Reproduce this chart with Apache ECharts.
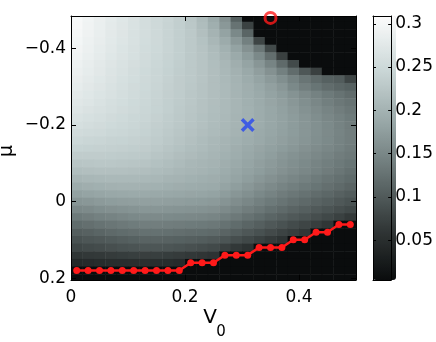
<!DOCTYPE html>
<html>
<head>
<meta charset="utf-8">
<script src="https://cdn.jsdelivr.net/npm/echarts@6/dist/echarts.min.js"></script>
<style>
html, body { margin: 0; padding: 0; background: #fff; }
#main { width: 436px; height: 342px; }
</style>
</head>
<body>
<div id="main"></div>
<script>
// cell centres
var v0Cells = [0.01, 0.03, 0.05, 0.07, 0.09, 0.11, 0.13, 0.15, 0.17, 0.19, 0.21, 0.23, 0.25,
  0.27, 0.29, 0.31, 0.33, 0.35, 0.37, 0.39, 0.41, 0.43, 0.45, 0.47, 0.49];
var muCells = [-0.48, -0.46, -0.44, -0.42, -0.40, -0.38, -0.36, -0.34, -0.32, -0.30, -0.28, -0.26,
  -0.24, -0.22, -0.20, -0.18, -0.16, -0.14, -0.12, -0.10, -0.08, -0.06, -0.04, -0.02, 0.00,
  0.02, 0.04, 0.06, 0.08, 0.10, 0.12, 0.14, 0.16, 0.18, 0.20];

// one row per mu value (top row first), one value per V0 column
var r00 = [.304,.296,.288,.280,.273,.266,.257,.250,.244,.237,.226,.210,.190,.160,.105,0,0,0,0,0,0,0,0,0,0];
var r01 = [.303,.295,.287,.279,.272,.265,.257,.250,.243,.236,.227,.213,.195,.168,.125,.072,0,0,0,0,0,0,0,0,0];
var r02 = [.301,.293,.286,.278,.271,.264,.257,.250,.243,.236,.228,.216,.200,.180,.150,.110,0,0,0,0,0,0,0,0,0];
var r03 = [.299,.291,.284,.277,.270,.263,.256,.250,.243,.236,.229,.219,.206,.190,.168,.140,.075,0,0,0,0,0,0,0,0];
var r04 = [.297,.289,.282,.275,.268,.262,.255,.249,.243,.236,.229,.221,.210,.197,.180,.160,.130,.080,0,0,0,0,0,0,0];
var r05 = [.294,.287,.280,.273,.267,.261,.254,.248,.242,.236,.229,.222,.213,.202,.189,.172,.150,.120,.070,0,0,0,0,0,0];
var r06 = [.291,.284,.278,.271,.265,.259,.253,.247,.241,.235,.229,.222,.214,.205,.194,.181,.165,.145,.115,.080,0,0,0,0,0];
var r07 = [.288,.282,.276,.269,.263,.257,.251,.246,.240,.234,.228,.222,.215,.207,.198,.187,.175,.160,.140,.118,.095,.070,0,0,0];
var r08 = [.285,.279,.273,.267,.261,.256,.250,.245,.239,.233,.228,.222,.215,.208,.200,.191,.181,.170,.157,.142,.128,.115,.105,.100,.075];
var r09 = [.282,.276,.271,.265,.260,.254,.249,.244,.238,.233,.227,.221,.215,.209,.202,.194,.186,.177,.166,.150,.138,.127,.118,.111,.105];
var r10 = [.278,.273,.268,.263,.258,.253,.248,.243,.237,.232,.226,.221,.215,.209,.202,.195,.188,.180,.172,.162,.152,.142,.133,.125,.118];
var r11 = [.274,.270,.265,.260,.256,.251,.247,.242,.236,.231,.226,.220,.215,.209,.203,.196,.190,.183,.176,.167,.157,.148,.139,.131,.125];
var r12 = [.270,.266,.262,.258,.254,.250,.246,.241,.236,.230,.225,.220,.214,.209,.203,.197,.191,.185,.178,.170,.161,.153,.145,.137,.130];
var r13 = [.265,.261,.258,.254,.251,.247,.244,.239,.234,.229,.224,.218,.213,.208,.202,.197,.191,.185,.179,.172,.164,.156,.148,.141,.134];
var r14 = [.260,.257,.254,.251,.248,.245,.242,.237,.232,.227,.222,.217,.212,.207,.202,.196,.191,.185,.179,.172,.165,.158,.151,.144,.137];
var r15 = [.254,.252,.250,.247,.245,.243,.240,.235,.230,.225,.220,.215,.210,.205,.200,.195,.189,.184,.178,.172,.165,.158,.152,.145,.138];
var r16 = [.248,.246,.244,.242,.241,.239,.237,.232,.227,.222,.217,.212,.207,.202,.197,.192,.187,.181,.176,.170,.164,.157,.151,.144,.138];
var r17 = [.241,.240,.239,.238,.237,.235,.233,.229,.224,.219,.214,.210,.205,.200,.194,.189,.183,.178,.172,.166,.160,.154,.148,.142,.136];
var r18 = [.233,.233,.233,.232,.231,.230,.228,.224,.220,.215,.211,.207,.203,.197,.192,.186,.180,.174,.167,.161,.155,.149,.143,.137,.132];
var r19 = [.224,.225,.226,.226,.225,.224,.222,.218,.214,.210,.206,.203,.200,.194,.188,.182,.176,.170,.163,.157,.151,.145,.139,.133,.127];
var r20 = [.214,.216,.217,.217,.217,.216,.215,.212,.209,.206,.203,.200,.197,.191,.185,.179,.173,.167,.160,.154,.148,.142,.136,.129,.122];
var r21 = [.203,.205,.207,.208,.208,.208,.207,.205,.202,.200,.197,.195,.193,.187,.181,.174,.167,.160,.153,.147,.141,.134,.128,.122,.116];
var r22 = [.191,.194,.196,.198,.199,.199,.198,.197,.195,.193,.191,.190,.188,.181,.174,.167,.159,.152,.145,.139,.133,.127,.121,.115,.109];
var r23 = [.178,.181,.184,.186,.187,.188,.188,.187,.186,.185,.183,.182,.180,.173,.165,.158,.150,.143,.136,.130,.124,.118,.112,.106,.100];
var r24 = [.164,.167,.170,.173,.175,.176,.177,.177,.176,.175,.173,.172,.170,.163,.155,.148,.140,.133,.126,.120,.114,.108,.102,.096,.090];
var r25 = [.149,.152,.156,.159,.161,.163,.165,.165,.164,.163,.162,.161,.159,.152,.145,.137,.130,.122,.115,.109,.103,.097,.091,.085,.079];
var r26 = [.133,.137,.141,.144,.147,.150,.152,.152,.151,.150,.149,.148,.146,.139,.132,.124,.117,.110,.103,.097,.091,.085,.078,.071,.062];
var r27 = [.117,.121,.125,.129,.132,.135,.138,.138,.137,.136,.134,.133,.131,.124,.117,.110,.103,.096,.089,.082,.075,.067,.058,0,0];
var r28 = [.102,.106,.110,.114,.117,.120,.123,.123,.122,.120,.118,.117,.115,.109,.102,.095,.088,.081,.073,.066,.058,0,0,0,0];
var r29 = [.089,.093,.096,.099,.102,.105,.108,.108,.107,.105,.103,.101,.098,.092,.085,.078,.071,.063,.055,0,0,0,0,0,0];
var r30 = [.077,.080,.083,.086,.089,.091,.093,.093,.092,.090,.087,.084,.080,.070,.061,.052,0,0,0,0,0,0,0,0,0];
var r31 = [.058,.060,.062,.064,.066,.068,.069,.068,.066,.064,.060,.057,.053,0,0,0,0,0,0,0,0,0,0,0,0];
var r32 = [.040,.042,.044,.045,.046,.047,.048,.047,.045,.042,0,0,0,0,0,0,0,0,0,0,0,0,0,0,0];
var r33 = [0,0,0,0,0,0,0,0,0,0,0,0,0,0,0,0,0,0,0,0,0,0,0,0,0];
var r34 = [0,0,0,0,0,0,0,0,0,0,0,0,0,0,0,0,0,0,0,0,0,0,0,0,0];
var rows = [r00, r01, r02, r03, r04, r05, r06, r07, r08, r09, r10, r11, r12, r13, r14, r15, r16,
  r17, r18, r19, r20, r21, r22, r23, r24, r25, r26, r27, r28, r29, r30, r31, r32, r33, r34];

// red boundary line
var lineV0 = [0.01, 0.03, 0.05, 0.07, 0.09, 0.11, 0.13, 0.15, 0.17, 0.19, 0.21, 0.23, 0.25,
  0.27, 0.29, 0.31, 0.33, 0.35, 0.37, 0.39, 0.41, 0.43, 0.45, 0.47, 0.49];
var lineMu = [0.18, 0.18, 0.18, 0.18, 0.18, 0.18, 0.18, 0.18, 0.18, 0.18, 0.16, 0.16, 0.16,
  0.14, 0.14, 0.14, 0.12, 0.12, 0.12, 0.10, 0.10, 0.08, 0.08, 0.06, 0.06];

var crossPoint = [0.31, -0.2];
var circlePoint = [0.35, -0.48];

var xTicks = [0, 0.2, 0.4];
var yTicks = [-0.4, -0.2, 0, 0.2];
var cbTicks = [0.05, 0.1, 0.15, 0.2, 0.25, 0.3];

var cells = [];
rows.forEach(function (row, i) {
  row.forEach(function (val, j) {
    cells.push([v0Cells[j], muCells[i], val]);
  });
});
var linePts = lineV0.map(function (x, i) { return [x, lineMu[i]]; });

var FONT = 'DejaVu Sans';
function minus (v) { return String(v).replace('-', '\u2212'); }

var myChart = echarts.init(document.getElementById('main'), null, { renderer: 'canvas' });

function frameAxis (idx, pos, opts) {
  var a = {
    gridIndex: idx,
    type: 'value',
    position: pos,
    z: 10,
    splitLine: { show: false },
    axisLine: { show: true, onZero: false, lineStyle: { color: '#000', width: 1 } },
    axisTick: { show: false },
    axisLabel: { show: false }
  };
  return Object.assign(a, opts);
}

myChart.setOption({
  animation: false,
  backgroundColor: '#fff',
  grid: [
    { left: 71, top: 16, width: 285, height: 264 },
    { left: 373, top: 16, width: 23, height: 264 }
  ],
  xAxis: [
    frameAxis(0, 'bottom', {
      min: 0, max: 0.5,
      axisTick: { show: true, inside: true, length: 5, customValues: xTicks, lineStyle: { color: '#000' } },
      axisLabel: { show: true, customValues: xTicks, margin: 9, color: '#000', fontFamily: FONT, fontSize: 17, formatter: minus }
    }),
    frameAxis(0, 'top', {
      min: 0, max: 0.5,
      axisTick: { show: true, inside: true, length: 5, customValues: xTicks, lineStyle: { color: '#000' } }
    }),
    frameAxis(1, 'bottom', { min: 0, max: 1 }),
    frameAxis(1, 'top', { min: 0, max: 1 })
  ],
  yAxis: [
    frameAxis(0, 'left', {
      min: -0.485, max: 0.205, inverse: true,
      axisTick: { show: true, inside: true, length: 5, customValues: yTicks, lineStyle: { color: '#000' } },
      axisLabel: { show: true, customValues: yTicks, margin: 5, color: '#000', fontFamily: FONT, fontSize: 17, formatter: minus }
    }),
    frameAxis(0, 'right', {
      min: -0.485, max: 0.205, inverse: true,
      axisTick: { show: true, inside: true, length: 5, customValues: yTicks, lineStyle: { color: '#000' } }
    }),
    frameAxis(1, 'left', {
      min: 0.004, max: 0.309,
      axisTick: { show: true, inside: true, length: 3, customValues: cbTicks, lineStyle: { color: '#000' } }
    }),
    frameAxis(1, 'right', {
      min: 0.004, max: 0.309,
      axisTick: { show: true, inside: true, length: 3, customValues: cbTicks, lineStyle: { color: '#000' } },
      axisLabel: { show: true, customValues: cbTicks, margin: 4, color: '#000', fontFamily: FONT, fontSize: 17 }
    })
  ],
  visualMap: {
    type: 'continuous',
    seriesIndex: 0,
    dimension: 2,
    min: 0,
    max: 0.31,
    calculable: false,
    hoverLink: false,
    orient: 'vertical',
    left: 373,
    top: 16,
    padding: 0,
    itemWidth: 23,
    itemHeight: 264,
    z: 2,
    inRange: {
      color: ['#0a0c0d', '#333939', '#667272', '#99a8a8', '#ccd8d8', '#fcfcfc']
    }
  },
  graphic: [
    {
      type: 'text', x: 7, y: 151, rotation: Math.PI / 2,
      style: { text: 'μ', font: '19px "DejaVu Sans"', fill: '#000', align: 'center', verticalAlign: 'middle' }
    },
    {
      type: 'text', x: 210, y: 318,
      style: { text: 'V', font: '20px "DejaVu Sans"', fill: '#000', align: 'center', verticalAlign: 'middle' }
    },
    {
      type: 'text', x: 221, y: 332,
      style: { text: '0', font: '15px "DejaVu Sans"', fill: '#000', align: 'center', verticalAlign: 'middle' }
    }
  ],
  series: [
    {
      type: 'custom',
      xAxisIndex: 0,
      yAxisIndex: 0,
      clip: true,
      z: 2,
      data: cells,
      encode: { x: 0, y: 1 },
      renderItem: function (params, api) {
        var a = api.coord([api.value(0) - 0.01, api.value(1) - 0.01]);
        var b = api.coord([api.value(0) + 0.01, api.value(1) + 0.01]);
        return {
          type: 'rect',
          shape: {
            x: Math.min(a[0], b[0]),
            y: Math.min(a[1], b[1]),
            width: Math.abs(b[0] - a[0]) + 0.5,
            height: Math.abs(b[1] - a[1]) + 0.5
          },
          style: { fill: api.visual('color') }
        };
      }
    },
    {
      type: 'line',
      xAxisIndex: 0,
      yAxisIndex: 0,
      z: 20,
      data: linePts,
      symbol: 'circle',
      symbolSize: 7,
      lineStyle: { color: '#ff1a1a', width: 2.5 },
      itemStyle: { color: '#ff1a1a' }
    },
    {
      type: 'scatter',
      xAxisIndex: 0,
      yAxisIndex: 0,
      z: 20,
      data: [crossPoint],
      symbol: 'path://M0,2.5L2.5,0L7,4.5L11.5,0L14,2.5L9.5,7L14,11.5L11.5,14L7,9.5L2.5,14L0,11.5L4.5,7Z',
      symbolSize: 14,
      itemStyle: { color: '#2747f0' }
    },
    {
      type: 'scatter',
      xAxisIndex: 0,
      yAxisIndex: 0,
      z: 20,
      clip: false,
      data: [circlePoint],
      symbol: 'circle',
      symbolSize: 11,
      itemStyle: { color: 'rgba(0,0,0,0)', borderColor: '#ff1a1a', borderWidth: 3 }
    }
  ]
});

window.addEventListener('resize', function () {
  myChart.resize();
});
</script>
</body>
</html>
